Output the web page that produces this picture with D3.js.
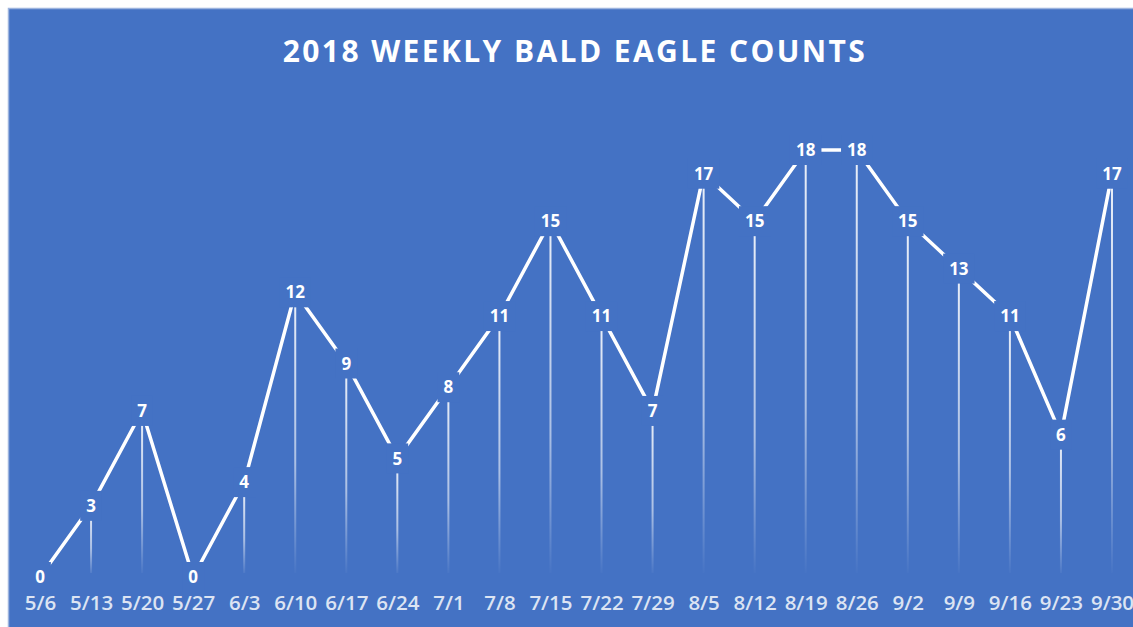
<!DOCTYPE html>
<html>
<head>
<meta charset="utf-8">
<script src="https://cdn.jsdelivr.net/npm/d3@7"></script>
<style>
  body { margin: 0; background: #ffffff; }
  svg { display: block; }
</style>
</head>
<body>
<script>
/* Week start dates (x categories) */
var weeks = ["5/6", "5/13", "5/20", "5/27", "6/3", "6/10", "6/17", "6/24", "7/1", "7/8", "7/15",
             "7/22", "7/29", "8/5", "8/12", "8/19", "8/26", "9/2", "9/9", "9/16", "9/23", "9/30"];

/* Bald eagles counted each week */
var counts = [0, 3, 7, 0, 4, 12, 9, 5, 8, 11, 15, 11, 7, 17, 15, 18, 18, 15, 13, 11, 6, 17];

var title = "2018 WEEKLY BALD EAGLE COUNTS";

var width = 1133,
    height = 627;

var blue = "#4472C4";

var data = weeks.map(function(w, i){ return {week: w, count: counts[i]}; });

var svg = d3.select("body").append("svg")
    .attr("width", width)
    .attr("height", height);

// chart background with the thin light border
svg.append("rect")
    .attr("x", 8.5)
    .attr("y", 8.5)
    .attr("width", width)
    .attr("height", height)
    .attr("fill", blue)
    .attr("stroke", "#9db4de")
    .attr("stroke-width", 1.5);

svg.append("text")
    .attr("x", 575)
    .attr("y", 62)
    .attr("text-anchor", "middle")
    .attr("fill", "#ffffff")
    .style("font-family", "'Open Sans', sans-serif")
    .style("font-weight", "700")
    .style("font-size", "30px")
    .style("letter-spacing", "2.4px")
    .text(title);

var x = d3.scalePoint()
    .domain(weeks)
    .range([40, 1112]);

var y = d3.scaleLinear()
    .domain([0, 18])
    .range([577, 150]);

// one fading gradient per drop line
var defs = svg.append("defs");
var grads = defs.selectAll("linearGradient")
    .data(data)
    .enter().append("linearGradient")
    .attr("id", function(d, i){ return "drop" + i; })
    .attr("gradientUnits", "userSpaceOnUse")
    .attr("x1", 0).attr("x2", 0)
    .attr("y1", function(d){ return y(d.count); })
    .attr("y2", y(0));
grads.append("stop").attr("offset", "0%").attr("stop-color", "#fff").attr("stop-opacity", 0.9);
grads.append("stop").attr("offset", "60%").attr("stop-color", "#fff").attr("stop-opacity", 0.55);
grads.append("stop").attr("offset", "100%").attr("stop-color", "#fff").attr("stop-opacity", 0);

// drop lines
svg.selectAll(".drop")
    .data(data.filter(function(d){ return d.count > 0; }))
    .enter().append("line")
    .attr("class", "drop")
    .attr("x1", function(d){ return x(d.week); })
    .attr("x2", function(d){ return x(d.week); })
    .attr("y1", function(d){ return y(d.count); })
    .attr("y2", y(0) - 4)
    .attr("stroke", function(d){ return "url(#drop" + weeks.indexOf(d.week) + ")"; })
    .attr("stroke-width", 2);

// the count line
var line = d3.line()
    .x(function(d){ return x(d.week); })
    .y(function(d){ return y(d.count); });

svg.append("path")
    .datum(data)
    .attr("d", line)
    .attr("fill", "none")
    .attr("stroke", "#ffffff")
    .attr("stroke-width", 3.5);

// data labels sit on the points, with a blue box that hides the line behind them
var labels = svg.selectAll(".lbl")
    .data(data)
    .enter().append("g")
    .attr("class", "lbl")
    .attr("transform", function(d){ return "translate(" + x(d.week) + "," + y(d.count) + ")"; });

labels.append("rect")
    .attr("fill", blue);

labels.append("text")
    .attr("text-anchor", "middle")
    .attr("dy", "0.36em")
    .attr("fill", "#ffffff")
    .style("font-family", "'Open Sans', sans-serif")
    .style("font-weight", "700")
    .style("font-size", "17px")
    .text(function(d){ return d.count; });

labels.each(function(){
    var g = d3.select(this);
    var w = g.select("text").node().getComputedTextLength();
    g.select("rect")
        .attr("x", -w / 2 - 6)
        .attr("y", -15)
        .attr("width", w + 12)
        .attr("height", 30);
});

// x axis labels
var xAxis = svg.append("g")
    .attr("transform", "translate(0,595)")
    .call(d3.axisBottom(x).tickSize(0).tickPadding(0));

xAxis.select(".domain").remove();
xAxis.selectAll("text")
    .attr("fill", "#dce4f3")
    .attr("dy", "0.71em")
    .style("font-family", "'Open Sans', sans-serif")
    .style("font-weight", "600")
    .style("font-size", "20.5px");
</script>
</body>
</html>
